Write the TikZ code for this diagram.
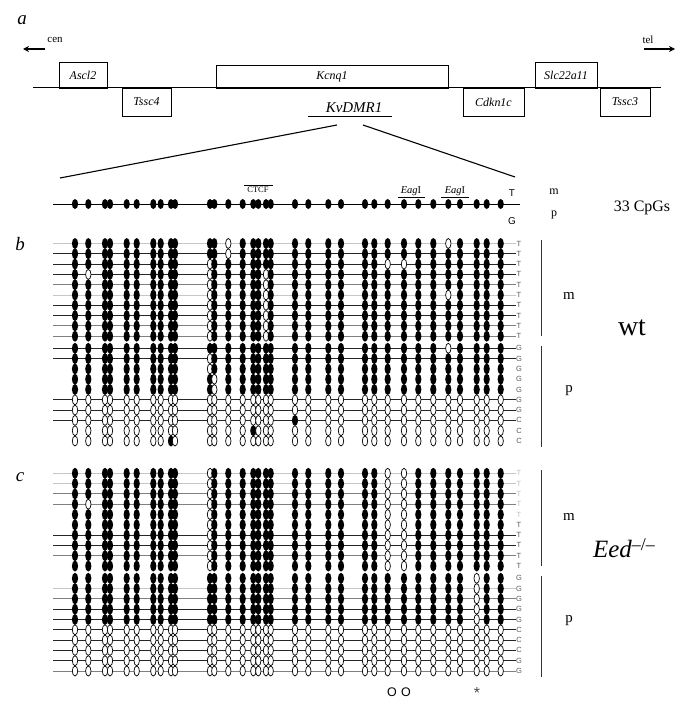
\documentclass[tikz,border=0pt]{standalone}
\usepackage{fontspec}
\setmainfont{Liberation Serif}
\newfontfamily\lsans{Liberation Sans}
\usetikzlibrary{arrows.meta}
\def\cpgx{{75,88.3,105,110,126.7,136.7,153.3,160.7,171,175,210,214.3,228.3,242.7,253.3,258.3,266,270.7,295,308.3,328.3,341,365,374.3,387.7,404,418.3,433.3,448.3,460,476.7,486.7,500.7}}
\def\pAf{1,1,1,1,1,1,1,1,1,1}
\def\pAo{0,0,0,0,0,0,0,0,0,0}
\def\pBf{1,1,1,1,1,1,1,1}
\def\pBo{0,0,0,0,0,0,0,0}
\def\pCf{1,1,1,1,1,1,1,1,1,1,1,1,1,1,1}
\def\pCo{0,0,0,0,0,0,0,0,0,0,0,0,0,0,0}
\newcommand\cpgrow[6]{%
  \draw[#2] (53,#1) -- (516,#1);
  \edef\cpglist{#3,#4,#5}%
  \foreach \s [count=\c from 0] in \cpglist {%
    \pgfmathsetmacro\xx{\cpgx[\c]}%
    \ifnum\s=1 \fill (\xx,#1) ellipse [x radius=3.1bp, y radius=5.5bp];%
    \else \filldraw[fill=white,line width=0.7bp] (\xx,#1) ellipse [x radius=2.7bp, y radius=5bp];\fi
  }%
  \node[rowlab] at (519,#1) {#6};%
}
\begin{document}
\begin{tikzpicture}[x=1bp,y=-1bp,
  genebox/.style={draw, line width=0.8bp, inner sep=0pt, font=\fontsize{12}{14}\selectfont\itshape},
  panlab/.style={font=\fontsize{19}{21}\selectfont\itshape},
  rowlab/.style={font=\lsans\fontsize{7.5}{8}\selectfont, text=black!65, inner sep=0pt},
  lD/.style={black!85, line width=1bp},
  lG/.style={black!50, line width=0.9bp},
  lL/.style={black!22, line width=0.9bp},
  lN/.style={draw=none},
  bar/.style={black!80, line width=0.8bp},
  big/.style={font=\fontsize{15}{17}\selectfont}]
\useasboundingbox[fill=white] (0,0) rectangle (685,706);

% ---------- panel a ----------
\node[panlab] (la) at (22,20) {a};
\node[font=\fontsize{11}{13}\selectfont] (cen) at (55,40) {cen};
\node[font=\fontsize{11}{13}\selectfont] (tel) at (648,40) {tel};
\coordinate (cenA) at (45,49); \coordinate (cenB) at (23,49);
\coordinate (telA) at (644,49); \coordinate (telB) at (675,49);
\draw[line width=1.3bp,-{Stealth[length=6bp,width=6bp]}] (cenA) -- (cenB);
\draw[line width=1.3bp,-{Stealth[length=6bp,width=6bp]}] (telA) -- (telB);
\coordinate (gl) at (33,88); \coordinate (gr) at (661,88);
\draw[line width=1bp] (gl) -- (gr);
\node[genebox, minimum width=48bp, minimum height=26bp] (ascl2) at (83,75) {Ascl2};
\node[genebox, minimum width=49bp, minimum height=28bp] (tssc4) at (146.5,102) {Tssc4};
\node[genebox, minimum width=232bp, minimum height=23bp] (kcnq1) at (332,76.5) {Kcnq1};
\node[genebox, minimum width=61bp, minimum height=28bp] (cdkn1c) at (493.5,102) {Cdkn1c};
\node[genebox, minimum width=62bp, minimum height=26bp] (slc) at (566,75) {Slc22a11};
\node[genebox, minimum width=50bp, minimum height=28bp] (tssc3) at (625,102) {Tssc3};
\node[font=\fontsize{15}{17}\selectfont\itshape] (kv) at (354,108) {KvDMR1};
\draw[line width=1.1bp] (308,116.5) -- (392,116.5);
\coordinate (z1) at (337,125); \coordinate (z2) at (60,178);
\coordinate (z3) at (363,125); \coordinate (z4) at (515,177);
\draw[line width=1.1bp] (z1) -- (z2);
\draw[line width=1.1bp] (z3) -- (z4);

% reference row
\draw[line width=1bp] (53,204) -- (520,204);
\foreach \c in {0,...,32} {
  \pgfmathsetmacro\xx{\cpgx[\c]}
  \fill (\xx,204) ellipse [x radius=3.1bp, y radius=5bp];
}
\node[font=\fontsize{8.5}{9}\selectfont] (ctcf) at (258,190) {CTCF};
\draw[line width=0.6bp] (244,185.5) -- (273,185.5);
\node[font=\fontsize{10.5}{11}\selectfont] (eag1) at (411,191.5) {\textit{Eag}I};
\draw[line width=0.7bp] (398,197.5) -- (425,197.5);
\node[font=\fontsize{10.5}{11}\selectfont] (eag2) at (455,191.5) {\textit{Eag}I};
\draw[line width=0.7bp] (441,197.5) -- (469,197.5);
\node[font=\lsans\fontsize{10}{11}\selectfont] (rT) at (512,193) {T};
\node[font=\lsans\fontsize{10}{11}\selectfont] (rG) at (512,221) {G};
\node[font=\fontsize{12}{13}\selectfont] (tm) at (554,192) {m};
\node[font=\fontsize{12}{13}\selectfont] (tp) at (554,215) {p};
\node[font=\fontsize{16}{18}\selectfont] (cpgs) at (642,208) {33 CpGs};

% ---------- panel b ----------
\node[panlab] (lb) at (20,244) {b};
% maternal
\cpgrow{243.5}{lL}{\pAf}{1,1,0,1,1,1,1,1}{1,1,1,1,1,1,1,1,1,1,0,1,1,1,1}{T}
\cpgrow{253.8}{lD}{\pAf}{1,1,0,1,1,1,1,1}{\pCf}{T}
\cpgrow{264.1}{lD}{\pAf}{0,1,1,1,1,1,1,1}{1,1,1,1,1,1,0,0,1,1,1,1,1,1,1}{T}
\cpgrow{274.4}{lD}{1,0,1,1,1,1,1,1,1,1}{0,1,1,1,1,1,0,1}{\pCf}{T}
\cpgrow{284.7}{lG}{\pAf}{0,1,1,1,1,1,0,1}{\pCf}{T}
\cpgrow{295.0}{lL}{\pAf}{0,1,1,1,1,1,0,1}{1,1,1,1,1,1,1,1,1,1,0,1,1,1,1}{T}
\cpgrow{305.3}{lD}{\pAf}{0,1,1,1,1,1,0,1}{\pCf}{T}
\cpgrow{315.6}{lD}{\pAf}{0,1,1,1,1,1,0,1}{\pCf}{T}
\cpgrow{325.9}{lG}{\pAf}{0,1,1,1,1,1,0,1}{\pCf}{T}
\cpgrow{336.2}{lG}{\pAf}{0,1,1,1,1,1,0,1}{\pCf}{T}
% paternal
\cpgrow{348.3}{lD}{\pAf}{\pBf}{1,1,1,1,1,1,1,1,1,1,0,1,1,1,1}{G}
\cpgrow{358.6}{lD}{\pAf}{0,1,1,1,1,1,1,1}{\pCf}{G}
\cpgrow{368.9}{lN}{\pAf}{0,1,1,1,1,1,1,1}{\pCf}{G}
\cpgrow{379.2}{lN}{\pAf}{1,0,1,1,1,1,1,1}{\pCf}{G}
\cpgrow{389.5}{lN}{\pAf}{1,0,1,1,1,1,1,1}{\pCf}{G}
\cpgrow{399.8}{lD}{\pAo}{\pBo}{\pCo}{G}
\cpgrow{410.1}{lD}{\pAo}{\pBo}{\pCo}{G}
\cpgrow{420.4}{lD}{\pAo}{\pBo}{1,0,0,0,0,0,0,0,0,0,0,0,0,0,0}{C}
\cpgrow{430.7}{lN}{\pAo}{0,0,0,0,1,0,0,0}{\pCo}{C}
\cpgrow{441.0}{lN}{0,0,0,0,0,0,0,0,1,0}{\pBo}{\pCo}{C}
\draw[bar] (541,240) -- (541,336);
\draw[bar] (541,346) -- (541,447);
\node[big] (bm) at (569,296) {m};
\node[big] (bp) at (569,391) {p};
\node[font=\fontsize{28}{30}\selectfont] (wt) at (632,328) {wt};

% ---------- panel c ----------
\node[panlab] (lc) at (20,477) {c};
\cpgrow{473.3}{lL}{\pAf}{0,1,1,1,1,1,1,1}{1,1,1,1,1,1,0,0,1,1,1,1,1,1,1}{\color{black!25}T}
\cpgrow{483.6}{lL}{\pAf}{0,1,1,1,1,1,1,1}{1,1,1,1,1,1,0,0,1,1,1,1,1,1,1}{\color{black!25}T}
\cpgrow{493.9}{lG}{\pAf}{0,1,1,1,1,1,1,1}{1,1,1,1,1,1,0,0,1,1,1,1,1,1,1}{\color{black!25}T}
\cpgrow{504.2}{lG}{1,0,1,1,1,1,1,1,1,1}{0,1,1,1,1,1,1,1}{1,1,1,1,1,1,0,0,1,1,1,1,1,1,1}{\color{black!25}T}
\cpgrow{514.5}{lN}{\pAf}{0,1,1,1,1,1,1,1}{1,1,1,1,1,1,0,0,1,1,1,1,1,1,1}{\color{black!25}T}
\cpgrow{524.8}{lN}{\pAf}{0,1,1,1,1,1,1,1}{1,1,1,1,1,1,0,0,1,1,1,1,1,1,1}{T}
\cpgrow{535.1}{lD}{\pAf}{0,1,1,1,1,1,1,1}{1,1,1,1,1,1,0,0,1,1,1,1,1,1,1}{T}
\cpgrow{545.4}{lD}{\pAf}{0,1,1,1,1,1,1,1}{1,1,1,1,1,1,0,0,1,1,1,1,1,1,1}{T}
\cpgrow{555.7}{lG}{\pAf}{0,1,1,1,1,1,1,1}{1,1,1,1,1,1,0,0,1,1,1,1,1,1,1}{T}
\cpgrow{566.0}{lN}{\pAf}{0,1,1,1,1,1,1,1}{1,1,1,1,1,1,0,0,1,1,1,1,1,1,1}{T}
\cpgrow{578.3}{lN}{\pAf}{\pBf}{1,1,1,1,1,1,1,1,1,1,1,1,0,1,1}{G}
\cpgrow{588.6}{lL}{\pAf}{\pBf}{1,1,1,1,1,1,1,1,1,1,1,1,0,1,1}{G}
\cpgrow{598.9}{lG}{\pAf}{\pBf}{1,1,1,1,1,1,1,1,1,1,1,1,0,1,1}{G}
\cpgrow{609.2}{lD}{\pAf}{\pBf}{1,1,1,1,1,1,1,1,1,1,1,1,0,1,1}{G}
\cpgrow{619.5}{lD}{\pAf}{\pBf}{1,1,1,1,1,1,1,1,1,1,1,1,0,1,1}{G}
\cpgrow{629.8}{lD}{\pAo}{\pBo}{\pCo}{C}
\cpgrow{640.1}{lD}{\pAo}{\pBo}{\pCo}{C}
\cpgrow{650.4}{lD}{\pAo}{\pBo}{\pCo}{C}
\cpgrow{660.7}{lD}{\pAo}{\pBo}{\pCo}{G}
\cpgrow{671.0}{lG}{\pAo}{\pBo}{\pCo}{G}
\draw[bar] (541,470) -- (541,566);
\draw[bar] (541,576) -- (541,677);
\node[big] (cm) at (569,517) {m};
\node[big] (cp) at (569,621) {p};
\node[font=\fontsize{25}{28}\selectfont] (eed) at (624,548) {\textit{Eed}\raisebox{0.3em}{\fontsize{18}{19}\selectfont –/–}};

\node[font=\lsans\fontsize{12.5}{13}\selectfont] (o1) at (392,692) {O};
\node[font=\lsans\fontsize{12.5}{13}\selectfont] (o2) at (406,692) {O};
\node[font=\lsans\fontsize{16}{17}\selectfont, text=black!70] (ast) at (477,693) {*};
\end{tikzpicture}
\end{document}
